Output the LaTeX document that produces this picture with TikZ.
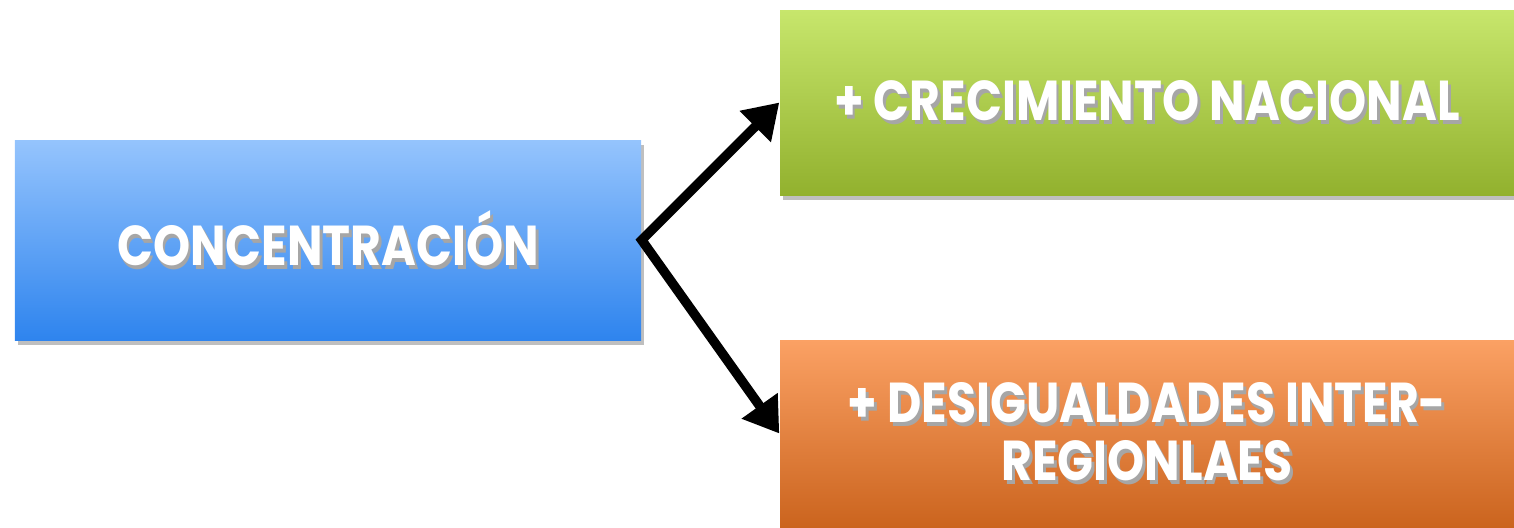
\documentclass[tikz,border=0pt]{standalone}
\usepackage{fontspec}
\usepackage{xcolor}
\usepackage{tikz}
\usetikzlibrary{arrows.meta, positioning, shadows}

\newfontfamily\boxfont{Poppins}[FakeStretch=0.84]
\definecolor{blueTop}{HTML}{95C4FD}
\definecolor{blueBot}{HTML}{2E84EE}
\definecolor{greenTop}{HTML}{C7E66C}
\definecolor{greenBot}{HTML}{92B12E}
\definecolor{orangeTop}{HTML}{FBA164}
\definecolor{orangeBot}{HTML}{CB641E}

% white label with a soft dark shadow under it
\newcommand{\shadowtext}[1]{\leavevmode\rlap{\kern0.8pt\raisebox{-1pt}{\color{black!35}#1}}#1}

\tikzset{
  box/.style={rectangle, inner sep=0pt, align=center, text=white,
    font=\boxfont\bfseries\fontsize{16}{16.5}\selectfont,
    drop shadow={shadow xshift=0.03cm, shadow yshift=-0.05cm, opacity=0.5}},
  link/.style={line width=2.7pt, line join=miter,
    {Triangle[length=3.4mm, width=4.2mm]}-{Triangle[length=3.4mm, width=4.2mm]}}
}

\begin{document}
\begin{tikzpicture}
  \useasboundingbox (0,0) rectangle (15.14,5.27);

  % Boxes
  \node[box, minimum width=6.26cm, minimum height=2cm,
        top color=blueTop, bottom color=blueBot]
    (conc) at (3.28,2.87) {\shadowtext{CONCENTRACIÓN}};
  \node[box, minimum width=7.34cm, minimum height=1.85cm,
        top color=greenTop, bottom color=greenBot]
    (crec) at (11.47,4.245) {\shadowtext{+ CRECIMIENTO NACIONAL}};
  \node[box, minimum width=7.34cm, minimum height=1.87cm,
        top color=orangeTop, bottom color=orangeBot]
    (desig) at (11.47,0.935) {\shadowtext{+ DESIGUALDADES INTER-}\\\shadowtext{REGIONLAES}};

  % Arrows
  \draw[link] (crec.west) -- (conc.east) -- (desig.west);

\end{tikzpicture}
\end{document}
